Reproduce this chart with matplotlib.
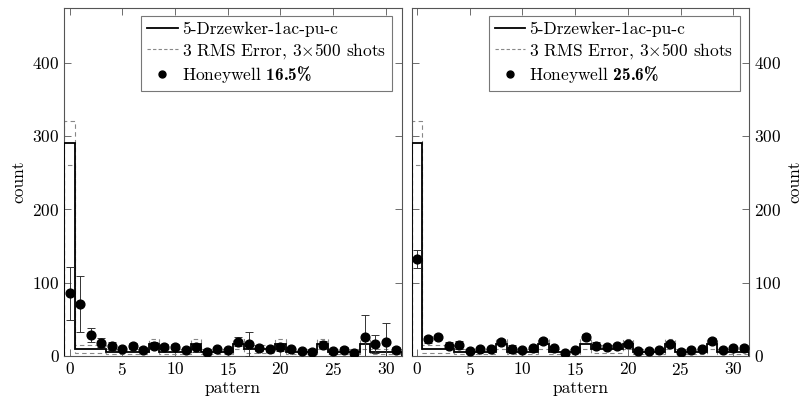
import numpy as np
import matplotlib
matplotlib.use("Agg")
import matplotlib.pyplot as plt
from matplotlib.lines import Line2D

plt.rcParams['font.family'] = ['cmr10', 'DejaVu Serif']
plt.rcParams['mathtext.fontset'] = 'custom'
plt.rcParams['mathtext.rm'] = 'cmr10'
plt.rcParams['mathtext.bf'] = 'cmb10'
plt.rcParams['mathtext.it'] = 'cmmi10'
plt.rcParams['axes.formatter.use_mathtext'] = True
plt.rcParams['font.size'] = 12.5

patterns = np.arange(32)

# ideal distribution (step outline) and its 3 RMS band
ideal = [291, 9.5, 9.5, 9.5, 5.9, 5.9, 5.9, 5.9, 16, 5.9, 5.9, 5.9, 16, 5.9, 5.9, 5.9,
         16, 9.5, 9.5, 9.5, 16, 5.9, 5.9, 5.9, 16, 5.9, 5.9, 5.9, 16, 5.9, 5.9, 5.9]
upper = [320, 15, 15, 15, 9.5, 9.5, 9.5, 9.5, 23, 9.5, 9.5, 9.5, 23, 9.5, 9.5, 9.5,
         23, 15, 15, 15, 23, 9.5, 9.5, 9.5, 23, 9.5, 9.5, 9.5, 23, 9.5, 9.5, 9.5]
lower = [261, 4, 4, 4, 2.3, 2.3, 2.3, 2.3, 9, 2.3, 2.3, 2.3, 9, 2.3, 2.3, 2.3,
         9, 4, 4, 4, 9, 2.3, 2.3, 2.3, 9, 2.3, 2.3, 2.3, 9, 2.3, 2.3, 2.3]

# Honeywell measurements, left run (16.5%)
hw_a = [85.5, 70.5, 28.6, 18.1, 13.6, 9.1, 14, 8.6, 14, 11.9, 11.9, 8.2, 11.9, 5.9, 9.5, 8.2,
        19.5, 16.4, 10.5, 9.1, 11.9, 9.1, 6.4, 5.9, 15.4, 6.4, 8.6, 4.5, 26.3, 16, 18.7, 8]
err_a = [36, 38, 9.5, 6, 5, 3, 4, 3, 5, 5, 5, 3, 6, 3, 3, 3,
         6, 16, 4, 3, 5, 3, 3, 3, 5, 3, 3, 3, 29, 12, 26, 4]

# Honeywell measurements, right run (25.6%)
hw_b = [132, 22.8, 25.5, 14, 15, 7.2, 9.5, 9.5, 19.5, 9.5, 8.2, 11.3, 20.9, 10.5, 3.7, 8.2,
        25.5, 14, 12.7, 14, 16.4, 7.2, 7.2, 8.2, 16.4, 5.9, 8.2, 9.5, 20.9, 8.2, 10.5, 10.5]
err_b = [12, 5, 3, 5, 5, 2, 2, 2, 3, 5, 2, 2, 3, 2, 2, 2,
         4, 5, 2, 3, 4, 2, 2, 2, 4, 2, 2, 2, 3, 2, 3, 4]

labels = ['Honeywell $\\mathbf{16.5\\%}$', 'Honeywell $\\mathbf{25.6\\%}$']

W, H = 806, 399
fig = plt.figure(figsize=(W / 100, H / 100), dpi=100)
ax1 = fig.add_axes([64.3 / W, 43 / H, 337.4 / W, 347.7 / H])
ax2 = fig.add_axes([411.7 / W, 43 / H, 337.4 / W, 347.7 / H])

edges = np.append(patterns, patterns[-1] + 1) - 0.5
spine_col = '#555555'

for ax, vals, errs, lab in [(ax1, hw_a, err_a, labels[0]), (ax2, hw_b, err_b, labels[1])]:
    ax.stairs(ideal, edges, color='k', lw=1.3, zorder=3)
    ax.stairs(upper, edges, color='#888888', lw=0.8, ls=(0, (4, 3)), zorder=2)
    ax.stairs(lower, edges, color='#888888', lw=0.8, ls=(0, (4, 3)), zorder=2)
    ax.errorbar(patterns, vals, yerr=errs, fmt='o', color='k', ms=6.3,
                ecolor='#333333', elinewidth=0.7, capsize=3, capthick=0.7, zorder=4)
    ax.set_xlim(-0.5, 31.5)
    ax.set_ylim(0, 474)
    ax.set_xticks(range(0, 31, 5))
    ax.set_yticks(range(0, 401, 100))
    ax.tick_params(direction='in', length=5, width=0.6, color=spine_col,
                   top=True, right=True, left=True, bottom=True)
    for s in ax.spines.values():
        s.set_color(spine_col)
        s.set_linewidth(0.8)
    ax.set_xlabel('pattern', labelpad=2)
    handles = [Line2D([], [], color='k', lw=1.3),
               Line2D([], [], color='#888888', lw=0.8, ls=(0, (3, 2))),
               Line2D([], [], color='k', marker='o', ls='none', ms=5)]
    leg = ax.legend(handles, ['5-Drzewker-1ac-pu-c',
                              '3 RMS Error, 3$\\times$500 shots', lab],
                    loc='upper right', bbox_to_anchor=(0.972, 0.978), borderaxespad=0,
                    fancybox=False, framealpha=1, edgecolor='#777777',
                    handlelength=1.75, handletextpad=0.25, labelspacing=0.2,
                    borderpad=0.35, fontsize=12.5)
    leg.get_frame().set_linewidth(0.8)

ax1.set_ylabel('count')
ax2.yaxis.tick_right()
ax2.tick_params(left=True, labelleft=False, labelright=True)
ax2.yaxis.set_label_position('right')
ax2.set_ylabel('count')

fig.savefig('out.png', dpi=100)
